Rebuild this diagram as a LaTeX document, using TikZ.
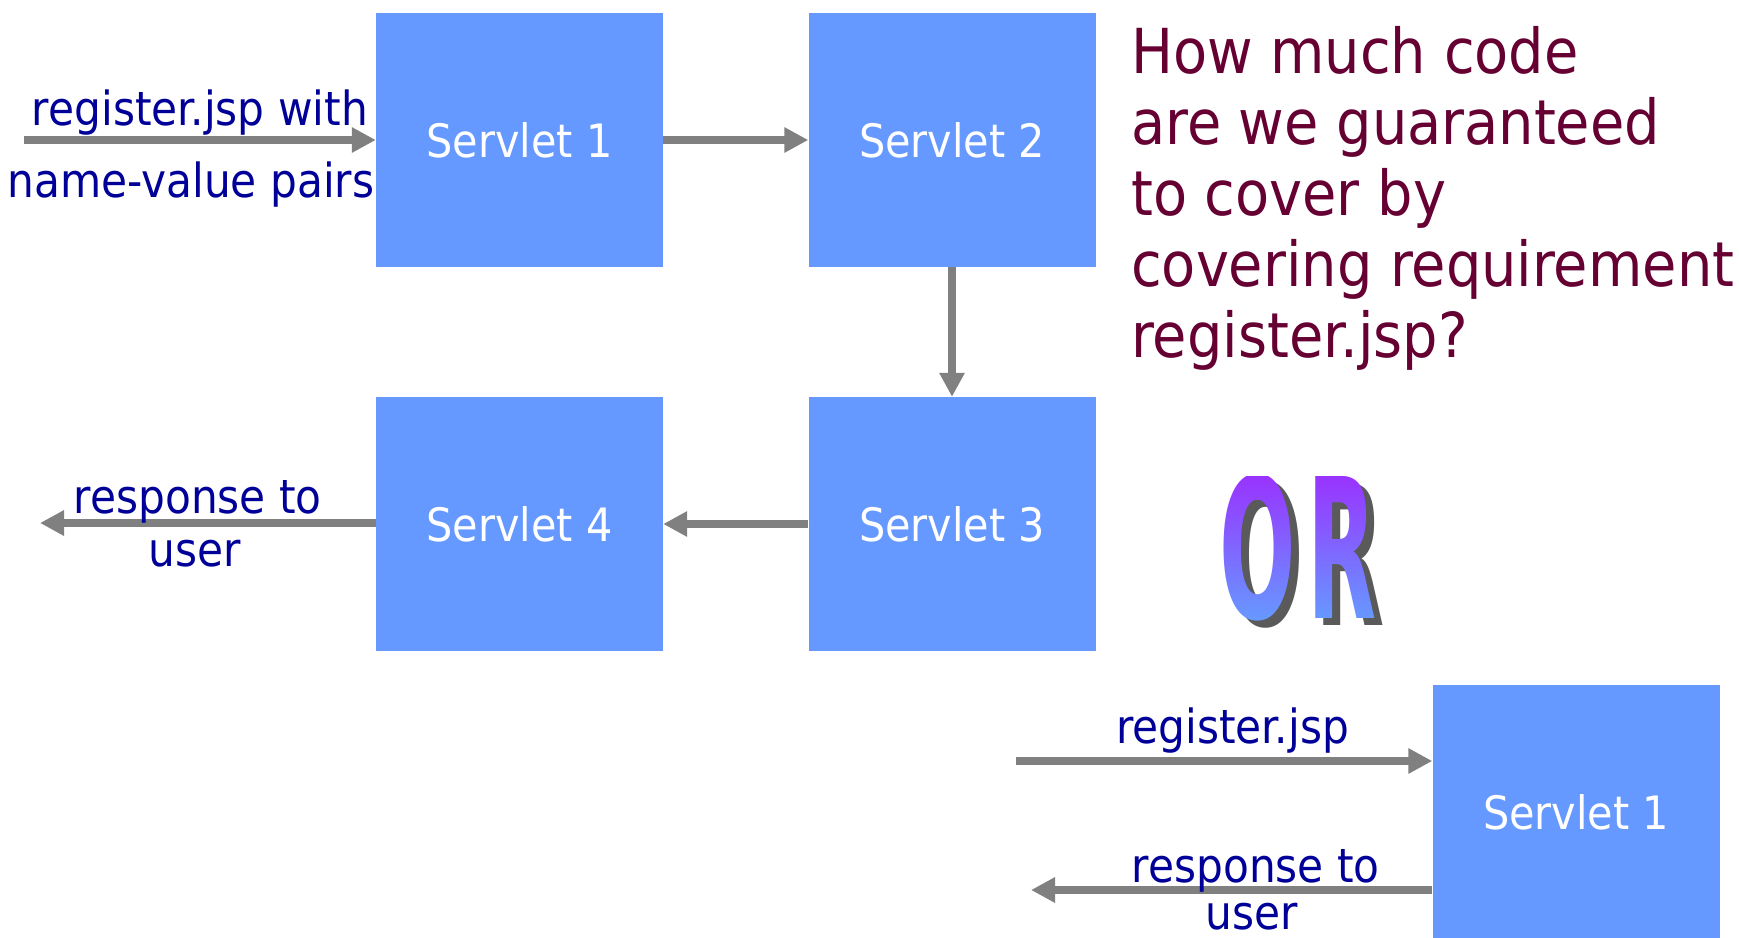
\documentclass[tikz,border=0pt]{standalone}
\usepackage{fontspec}
\setmainfont{DejaVu Sans Condensed}
\usepackage{graphicx}
\usepackage{tikz}
\usetikzlibrary{arrows.meta, positioning, fadings}
\definecolor{boxBlue}{HTML}{6699FF}
\definecolor{labelNavy}{HTML}{000099}
\definecolor{askMaroon}{HTML}{660033}
\definecolor{arrowGray}{HTML}{808080}
\definecolor{orTop}{HTML}{9933FF}
\definecolor{orBot}{HTML}{6699FF}
\definecolor{orShadow}{HTML}{5A5A5A}
\newcommand{\servletfont}{\fontsize{46}{55}\selectfont}
\newcommand{\flowlabelfont}{\fontsize{47}{56}\selectfont}
\newcommand{\askfont}{\fontsize{62}{71}\selectfont}
% word-art "OR": tall heavy letters, gradient fill comes from a fading
\newcommand{\orglyphs}{\fontsize{100}{100}\selectfont\bfseries\scalebox{1}[1.95]{O\kern 12pt R}}

\begin{tikzfadingfrompicture}[name=orword]
  \node[text=transparent!0, inner sep=0pt] {\orglyphs};
\end{tikzfadingfrompicture}

\begin{document}
\begin{tikzpicture}[
    x=1pt, y=-1pt,
    servlet/.style={fill=boxBlue, minimum width=287pt, minimum height=254pt,
                    inner sep=0pt, text=white, font=\servletfont},
    flow/.style   ={-{Triangle[length=24pt, width=24pt]}, line width=7.5pt, draw=arrowGray},
    lbl/.style    ={text=labelNavy, font=\flowlabelfont, anchor=base, inner sep=0pt}
  ]
  \useasboundingbox (0,0) rectangle (1739,937);

  % the chain of four servlets
  \node[servlet] (s1) at (519.5,140) {Servlet 1};
  \node[servlet] (s2) at (952,140)   {Servlet 2};
  \node[servlet] (s3) at (952,524)   {Servlet 3};
  \node[servlet] (s4) at (519.5,524) {Servlet 4};
  % the single servlet, bottom right (runs off the page)
  \node[servlet] (s1b) at (1576,812) {Servlet 1};

  \coordinate (req)   at (24,140);
  \coordinate (resp)  at (40,523);
  \coordinate (reqb)  at (1016,761);
  \coordinate (respb) at (1031,890);

  \draw[flow] (req) -- node[lbl, yshift=15pt]{register.jsp with}
                       node[lbl, yshift=-57pt, xshift=-9pt]{name-value pairs} (s1.west |- req);
  \draw[flow] (s1) -- (s2);
  \draw[flow] (s2) -- (s3);
  \draw[flow] (s3) -- (s4);
  \draw[flow] (s4.west |- resp) -- node[lbl, yshift=10pt, pos=0.53]{response to}
                                   node[lbl, yshift=-43pt, pos=0.54]{user} (resp);

  \draw[flow] (reqb) -- node[lbl, yshift=18pt, pos=0.52]{register.jsp} (s1b.west |- reqb);
  \draw[flow] (s1b.west |- respb) -- node[lbl, yshift=8pt, pos=0.44]{response to}
                                     node[lbl, yshift=-39pt, pos=0.45]{user} (respb);

  % the question (base = baseline of its last line)
  \node[anchor=base west, align=left, text=askMaroon, font=\askfont, inner sep=0pt] (ask)
       at (1131,357) {How much code\\are we guaranteed\\to cover by\\covering requirement\\register.jsp?};

  % OR, shadow first, then the shaded letters
  \node[text=orShadow, inner sep=0pt] (orshadow) at (1306,555) {\orglyphs};
  \begin{scope}[transform canvas={shift={(1298,548)}}]
    \shade[top color=orTop, bottom color=orBot, path fading=orword, fit fading=false]
      (-110,-72) rectangle (110,72);
  \end{scope}
\end{tikzpicture}
\end{document}
